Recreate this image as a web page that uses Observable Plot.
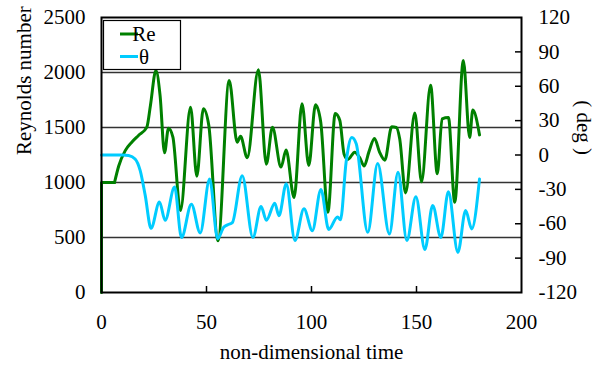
<!DOCTYPE html>
<html><head><meta charset="utf-8">
<script src="https://cdn.jsdelivr.net/npm/d3@7"></script>
<script src="https://cdn.jsdelivr.net/npm/@observablehq/plot@0.6"></script>
<style>body{margin:0;background:#fff} #chart{position:relative;width:597px;height:370px}
#chart svg, #chart svg text {font-family: "Liberation Serif", Tinos, "Times New Roman", Times, "DejaVu Serif", serif !important;}</style>
</head><body><div id="chart"></div>
<script>
// ---- data ----
const reTime  = [0, 0, 6.2, 8.2, 11.3, 14.4, 17.6, 21.6, 23.3, 25.9, 27.9, 30, 31.9, 34, 37.6, 42.4, 45.4, 48.5, 51.1, 55.5, 60.8, 64.6, 66.2, 69.4, 74.7, 78.5, 81.4, 85.5, 87.9, 91.7, 95.5, 98.7, 101.9, 104.4, 107.8, 111.3, 113.5, 115.5, 117.3, 120.6, 122.8, 125.1, 127.3, 130, 132.4, 134.9, 138.2, 140.4, 142, 144.8, 149.2, 152.4, 156.7, 159.9, 162.2, 165.2, 168.2, 172.3, 175.3, 176.8, 180];
const reValue = [0, 1000, 1000, 1150, 1290, 1366, 1427, 1503, 1700, 2018, 1790, 1270, 1494, 1412, 745, 1685, 1057, 1670, 1518, 470, 1927, 1367, 1421, 1225, 2025, 1167, 1503, 1140, 1295, 863, 1715, 1155, 1706, 1548, 730, 1628, 1564, 1260, 1209, 1276, 1230, 1150, 1276, 1400, 1276, 1203, 1506, 1500, 1397, 905, 1632, 1006, 1885, 1079, 1579, 1591, 821, 2109, 1409, 1658, 1433];
const thetaTime = [0, 5, 10, 12.9, 16, 18.4, 20.8, 23.6, 27.6, 30.3, 34.8, 38.1, 42.8, 47, 51.5, 55.3, 58.2, 60, 62.3, 67, 72.1, 76, 78.5, 82.5, 84.5, 88, 92.1, 96.4, 100.4, 104.5, 108.2, 112.4, 113.8, 116.5, 119.2, 121.3, 126.8, 131.5, 137.1, 141.2, 145.4, 149.7, 154, 157.7, 161.6, 165.2, 169.7, 173.4, 176.3, 180];
const thetaDeg  = [0, 0, 0, -0.5, -3.5, -13.5, -35, -64, -41, -57, -28, -72, -43, -68, -21, -73, -63, -61, -59, -18, -72, -45, -57, -42, -53, -25, -74.6, -47, -66, -30, -65, -54, -56.5, -6, 15.3, 9.8, -67.5, -7.5, -69, -15, -74.6, -36.5, -82.5, -44, -72, -32, -85, -48.5, -64.5, -21];
const xTicks = [0, 50, 100, 150, 200];
const reTicks = [0, 500, 1000, 1500, 2000, 2500];
const gridValues = [500, 1000, 1500, 2000];
const degTicks = [-120, -90, -60, -30, 0, 30, 60, 90, 120];
const seriesNames = ["Re", "θ"];
const seriesColors = ["#008000", "#00CCFF"];

// ---- build ----
const degToRe = d => (d + 120) * 2500 / 240;
const reToDeg = v => v * 240 / 2500 - 120;
const reData = reTime.map((t, i) => ({t, v: reValue[i]}));
const thData = thetaTime.map((t, i) => ({t, v: degToRe(thetaDeg[i])}));
const reStart = reData.slice(0, 3);   // vertical jump + flat start (straight segments)
const reRest = reData.slice(2);

const W = 597, H = 370, mL = 101, mR = 76, mT = 17, mB = 78;
const plotW = W - mL - mR, plotH = H - mT - mB;
const lw = 3;

const chart = Plot.plot({
  width: W, height: H, marginLeft: mL, marginRight: mR, marginTop: mT, marginBottom: mB,
  style: "font-size: 21px; color: black; background: white; overflow: visible;",
  x: {domain: [0, 200]},
  y: {domain: [0, 2500]},
  marks: [
    Plot.ruleY(gridValues, {stroke: "#333", strokeWidth: 1.4}),
    Plot.axisX({ticks: xTicks, tickFormat: d => String(d), tickSize: 0, tickPadding: 22, label: null, fontSize: 21}),
    Plot.ruleX(xTicks.slice(1, -1), {insetTop: plotH - 6, stroke: "black", strokeWidth: 1.5}),
    Plot.axisY({anchor: "left", ticks: reTicks, tickFormat: d => String(d), tickSize: 0, tickPadding: 16, label: null, fontSize: 21}),
    Plot.axisY({anchor: "right", ticks: degTicks.map(degToRe), tickFormat: v => String(Math.round(reToDeg(v))), tickSize: 0, tickPadding: 17, label: null, fontSize: 21}),
    Plot.ruleY(degTicks.slice(1, -1).map(degToRe), {insetLeft: plotW - 6, stroke: "black", strokeWidth: 1.5}),
    Plot.line(reStart, {x: "t", y: "v", stroke: seriesColors[0], strokeWidth: lw}),
    Plot.line(reRest, {x: "t", y: "v", stroke: seriesColors[0], strokeWidth: lw, curve: "monotone-x"}),
    Plot.line(thData, {x: "t", y: "v", stroke: seriesColors[1], strokeWidth: lw, curve: "monotone-x"}),
    Plot.frame({stroke: "black", strokeWidth: 2}),
    Plot.text(["non-dimensional time"], {text: d => d, frameAnchor: "bottom", dy: 66, fontSize: 21}),
    Plot.text(["Reynolds number"], {text: d => d, frameAnchor: "left", dx: -77, rotate: -90, fontSize: 21}),
    Plot.text(["( deg )"], {text: d => d, frameAnchor: "right", dx: 62, rotate: 90, fontSize: 21})
  ]
});
document.getElementById("chart").appendChild(chart);

// ---- legend (inside plot, top-left) ----
const svg = d3.select(chart);
const lg = svg.append("g").attr("font-size", 21);
lg.append("rect").attr("x", 103.5).attr("y", 20.5).attr("width", 77).attr("height", 49)
  .attr("fill", "white").attr("stroke", "black").attr("stroke-width", 1.2);
seriesNames.forEach((name, i) => {
  const y = 34 + i * 22.5;
  lg.append("line").attr("x1", 120).attr("x2", 138).attr("y1", y).attr("y2", y)
    .attr("stroke", seriesColors[i]).attr("stroke-width", lw);
  lg.append("text").attr("x", 144).attr("y", y).attr("dy", "0.34em").attr("fill", "black").text(name);
});
</script>
</body></html>
